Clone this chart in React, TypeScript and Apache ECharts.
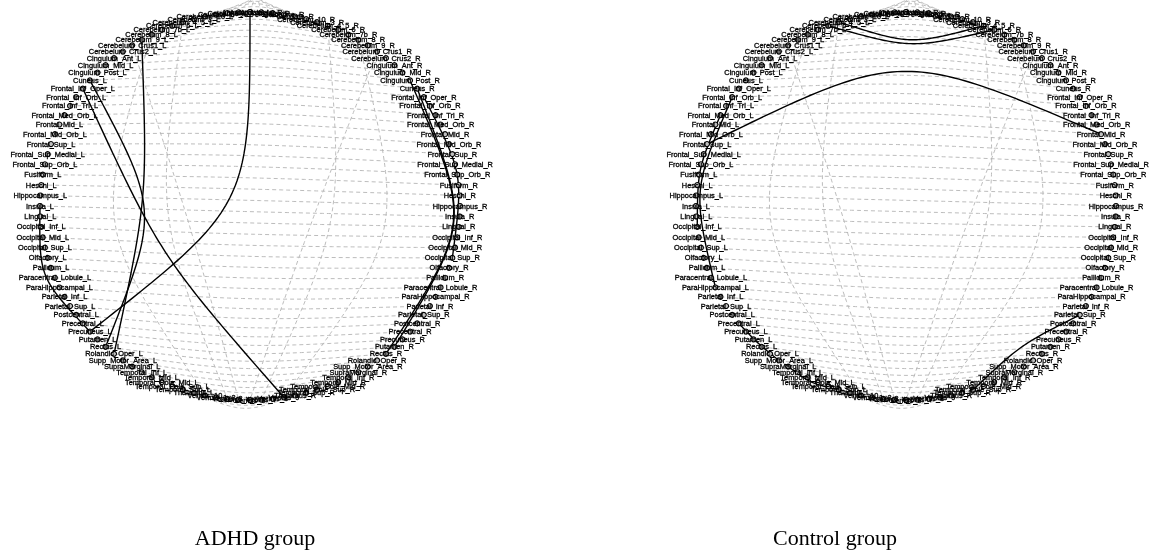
import React, { useEffect, useRef } from 'react';
import * as echarts from 'echarts';

// ---------------- DATA ----------------
const regionBases = [
  'Amygdala', 'Angular', 'Calcarine', 'Caudate', 'Cerebelum_10', 'Cerebelum_3', 'Cerebelum_4_5',
  'Cerebelum_6', 'Cerebelum_7b', 'Cerebelum_8', 'Cerebelum_9', 'Cerebelum_Crus1', 'Cerebelum_Crus2',
  'Cingulum_Ant', 'Cingulum_Mid', 'Cingulum_Post', 'Cuneus', 'Frontal_Inf_Oper', 'Frontal_Inf_Orb',
  'Frontal_Inf_Tri', 'Frontal_Med_Orb', 'Frontal_Mid', 'Frontal_Mid_Orb', 'Frontal_Sup',
  'Frontal_Sup_Medial', 'Frontal_Sup_Orb', 'Fusiform', 'Heschl', 'Hippocampus', 'Insula', 'Lingual',
  'Occipital_Inf', 'Occipital_Mid', 'Occipital_Sup', 'Olfactory', 'Pallidum', 'Paracentral_Lobule',
  'ParaHippocampal', 'Parietal_Inf', 'Parietal_Sup', 'Postcentral', 'Precentral', 'Precuneus',
  'Putamen', 'Rectus', 'Rolandic_Oper', 'Supp_Motor_Area', 'SupraMarginal', 'Temporal_Inf',
  'Temporal_Mid', 'Temporal_Pole_Mid', 'Temporal_Pole_Sup', 'Temporal_Sup', 'Thalamus',
];
const vermisNames = ['Vermis_10', 'Vermis_1_2', 'Vermis_3', 'Vermis_4_5', 'Vermis_6', 'Vermis_7', 'Vermis_8', 'Vermis_9'];

// node order around the ring (counter-clockwise from the top)
const nodeNames: string[] = [
  ...regionBases.map((b) => b + '_L'),
  ...vermisNames,
  ...regionBases.map((b) => b + '_R').reverse(),
];

// background (dashed grey) connections
const homotopicBend = -0.1; // bend of the left/right pairs
const extraGreyEdges: [string, string, number][] = [
  ['Cerebelum_8_L', 'Vermis_10', 0.75],
  ['Cerebelum_4_5_L', 'Vermis_3', 0.45],
  ['Cerebelum_8_R', 'Vermis_9', 0.75],
  ['Cerebelum_4_5_R', 'Vermis_7', 0.45],
  ['Cerebelum_Crus1_L', 'Vermis_4_5', 0.3],
  ['Cerebelum_Crus1_R', 'Vermis_6', 0.3],
];

// significant connections (solid black): [source, target, radius of the bundling point]
const adhdEdges: [string, string, number][] = [
  ['Amygdala_L', 'Precuneus_L', 0.0],
  ['Cerebelum_9_L', 'Rolandic_Oper_L', 0.49],
  ['Cuneus_L', 'Rectus_L', 0.43],
  ['Frontal_Inf_Oper_L', 'Vermis_9', 0.5],
  ['Insula_L', 'Precuneus_L', 1.07],
  ['Cingulum_Post_R', 'Rectus_R', 1.06],
  ['Cuneus_R', 'Putamen_R', 1.05],
  ['Frontal_Inf_Oper_R', 'Occipital_Sup_R', 1.03],
];
const controlEdges: [string, string, number][] = [
  ['Cerebelum_4_5_L', 'Cerebelum_4_5_R', 0.83],
  ['Cerebelum_6_L', 'Cerebelum_6_R', 0.81],
  ['Frontal_Sup_L', 'Frontal_Mid_R', 0.81],
  ['Frontal_Inf_Orb_L', 'ParaHippocampal_L', 1.02],
  ['Frontal_Med_Orb_L', 'Occipital_Inf_L', 1.01],
  ['Precentral_L', 'Supp_Motor_Area_L', 1.0],
  ['SupraMarginal_L', 'Temporal_Sup_L', 1.02],
  ['Parietal_Sup_R', 'Temporal_Pole_Sup_R', 0.9],
];

const panelTitles = ['ADHD group', 'Control group'];

// ---------------- LAYOUT HELPERS ----------------
const N = nodeNames.length;
function nodeAngle(name: string): number {
  const i = nodeNames.indexOf(name);
  return Math.PI / 2 + (i * 2 * Math.PI) / N;
}
function nodePos(name: string): [number, number] {
  const a = nodeAngle(name);
  return [Math.cos(a), Math.sin(a)];
}
function bezier(p0: number[], q: number[], p3: number[]): number[][] {
  const pts: number[][] = [];
  const steps = 60;
  for (let k = 0; k <= steps; k++) {
    const t = k / steps;
    const u = 1 - t;
    const c0 = u * u * u;
    const c1 = 3 * u * u * t + 3 * u * t * t;
    const c3 = t * t * t;
    pts.push([c0 * p0[0] + c1 * q[0] + c3 * p3[0], c0 * p0[1] + c1 * q[1] + c3 * p3[1]]);
  }
  return pts;
}
// curve pulled towards / away from the centre relative to the chord midpoint
function chordCurve(a: string, b: string, s: number): number[][] {
  const p0 = nodePos(a);
  const p3 = nodePos(b);
  const q = [((p0[0] + p3[0]) / 2) * (1 - s), ((p0[1] + p3[1]) / 2) * (1 - s)];
  return bezier(p0, q, p3);
}
// curve bundled through a point at radius rho on the angular midpoint
function polarCurve(a: string, b: string, rho: number): number[][] {
  const a0 = nodeAngle(a);
  let a1 = nodeAngle(b);
  while (a1 - a0 > Math.PI) a1 -= 2 * Math.PI;
  while (a1 - a0 < -Math.PI) a1 += 2 * Math.PI;
  const am = (a0 + a1) / 2;
  return bezier(nodePos(a), [rho * Math.cos(am), rho * Math.sin(am)], nodePos(b));
}

function panelSeries(idx: number, edges: [string, string, number][]) {
  const greyData = [
    ...regionBases.map((b) => ({ coords: chordCurve(b + '_L', b + '_R', homotopicBend) })),
    ...extraGreyEdges.map((e) => ({ coords: polarCurve(e[0], e[1], e[2]) })),
  ];
  return [
    {
      type: 'lines',
      coordinateSystem: 'cartesian2d',
      xAxisIndex: idx,
      yAxisIndex: idx,
      polyline: true,
      clip: false,
      silent: true,
      z: 1,
      lineStyle: { color: '#b4b4b4', width: 0.9, type: [4, 3], opacity: 1 },
      data: greyData,
    },
    {
      type: 'lines',
      coordinateSystem: 'cartesian2d',
      xAxisIndex: idx,
      yAxisIndex: idx,
      polyline: true,
      clip: false,
      silent: true,
      z: 2,
      lineStyle: { color: '#000000', width: 1.4, opacity: 1 },
      data: edges.map((e) => ({ coords: polarCurve(e[0], e[1], e[2]) })),
    },
    {
      type: 'scatter',
      xAxisIndex: idx,
      yAxisIndex: idx,
      clip: false,
      silent: true,
      z: 3,
      symbol: 'circle',
      symbolSize: 5,
      itemStyle: { color: '#c0c0c0', borderColor: '#000000', borderWidth: 1.1, opacity: 1 },
      label: {
        show: true,
        position: 'inside',
        formatter: (p: any) => p.data.name,
        fontSize: 7.4,
        fontFamily: 'Liberation Sans, Arial, sans-serif',
        color: '#000000',
        textBorderWidth: 0.3,
        textBorderColor: '#000000',
      },
      data: nodeNames.map((n) => ({ name: n, value: nodePos(n) })),
    },
  ];
}

const panelLeft = [40, 696];
const titleCenter = [250, 830];

export default function App() {
  const ref = useRef<HTMLDivElement>(null);
  useEffect(() => {
    const chart = echarts.init(ref.current!, null, { renderer: 'svg' });
    const option: any = {
      animation: false,
      backgroundColor: 'transparent',
      title: panelTitles.map((t, i) => ({
        text: t,
        left: titleCenter[i],
        top: 521,
        textAlign: 'center',
        textStyle: { fontFamily: 'Liberation Serif, serif', fontSize: 22, fontWeight: 'normal', color: '#000' },
      })),
      grid: panelLeft.map((l) => ({ left: l, top: 12, width: 420, height: 388, show: false })),
      xAxis: panelLeft.map((_, i) => ({ type: 'value', gridIndex: i, min: -1, max: 1, show: false })),
      yAxis: panelLeft.map((_, i) => ({ type: 'value', gridIndex: i, min: -1, max: 1, show: false })),
      series: [...panelSeries(0, adhdEdges), ...panelSeries(1, controlEdges)],
    };
    chart.setOption(option);
    return () => chart.dispose();
  }, []);
  return (
    <div
      ref={ref}
      style={{ position: 'fixed', left: 0, top: 0, width: 1158, height: 550, transform: 'translateZ(0)', willChange: 'transform' }}
    />
  );
}
